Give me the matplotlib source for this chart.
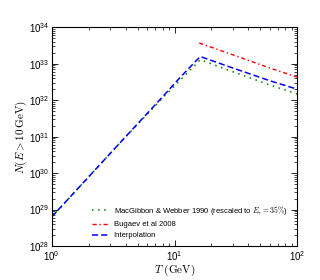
import numpy as np
import matplotlib
matplotlib.use('Agg')
import matplotlib.pyplot as plt

plt.rcParams['mathtext.fontset'] = 'cm'
plt.rcParams['font.family'] = ['Liberation Sans', 'DejaVu Sans']

# temperature grid (GeV) and N(E > 10 GeV)
T_mw = [1.0, 2.0, 3.6, 7.6, 16.2, 30.0, 60.0, 100.0]
N_mw = [6.3e28, 7.9e29, 6.8e30, 9.6e31, 1.29e33, 6.0e32, 2.6e32, 1.48e32]

T_bug = [15.9, 30.0, 60.0, 100.0]
N_bug = [3.7e33, 1.75e33, 7.6e32, 4.3e32]

T_int = [1.0, 2.0, 3.6, 7.6, 11.1, 16.2, 30.0, 60.0, 100.0]
N_int = [6.3e28, 7.9e29, 6.8e30, 1.03e32, 4.2e32, 1.58e33, 7.6e32, 3.4e32, 2.0e32]

labels = [r'MacGibbon & Webber 1990 (rescaled to $E_\gamma = 35\%$)',
          'Bugaev et al 2008',
          'Interpolation']

fig = plt.figure(figsize=(3.2, 2.8), dpi=100)
ax = fig.add_axes([0.1616, 0.1214, 0.7675, 0.7811])

ax.plot(T_mw, N_mw, color='g', lw=1.1, ls=(0, (1, 3)), label=labels[0])
ax.plot(T_bug, N_bug, color='r', lw=1.0, ls=(0, (3, 2, 1, 2)), label=labels[1])
ax.plot(T_int, N_int, color='b', lw=1.1, ls=(0, (4, 2)), label=labels[2])

ax.set_xscale('log')
ax.set_yscale('log')
ax.set_xlim(1, 100)
ax.set_ylim(1e28, 1e34)

ax.tick_params(which='both', direction='in', top=True, right=True, labelsize=7, pad=2)
ax.tick_params(which='major', length=4, width=0.6)
ax.tick_params(which='minor', length=2, width=0.5)
for s in ax.spines.values():
    s.set_linewidth(0.8)

ax.set_xlabel(r'$T\ (\mathrm{GeV})$', fontsize=8, labelpad=0)
ax.set_ylabel(r'$N(E > 10\,\mathrm{GeV})$', fontsize=8, labelpad=0)

ax.legend(loc='lower left', bbox_to_anchor=(0.165, 0.03), frameon=False,
          fontsize=5.5, handlelength=2, handletextpad=0.8, labelspacing=0.5,
          borderaxespad=0, borderpad=0)

fig.savefig('out.png', dpi=100)
